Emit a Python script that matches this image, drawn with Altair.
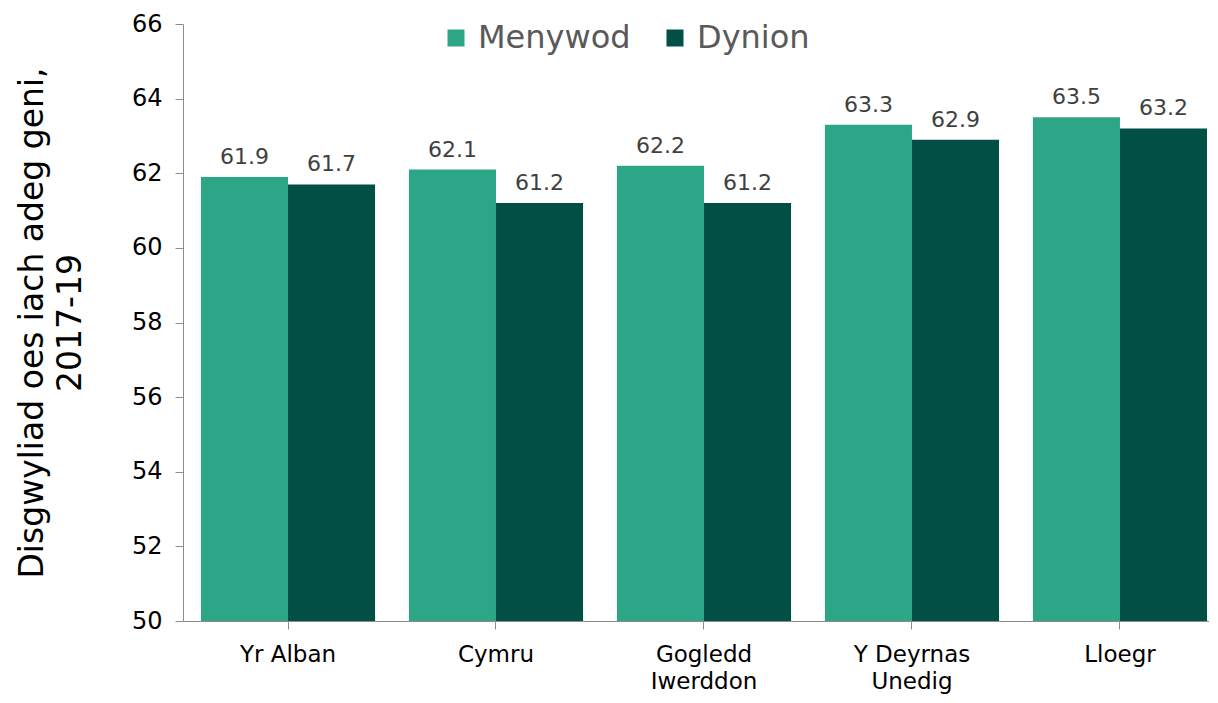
import altair as alt
import pandas as pd

regions = ["Yr Alban", "Cymru", "Gogledd|Iwerddon", "Y Deyrnas|Unedig", "Lloegr"]
series = ["Menywod", "Dynion"]
menywod = [61.9, 62.1, 62.2, 63.3, 63.5]
dynion = [61.7, 61.2, 61.2, 62.9, 63.2]
colors = ["#2da687", "#014f45"]
y_ticks = [50, 52, 54, 56, 58, 60, 62, 64, 66]

rows = []
for i, r in enumerate(regions):
    rows.append({"region": r, "series": "Menywod", "value": menywod[i]})
    rows.append({"region": r, "series": "Dynion", "value": dynion[i]})
df = pd.DataFrame(rows)

FONT = "DejaVu Sans"

x = alt.X(
    "region:N",
    sort=regions,
    scale=alt.Scale(paddingInner=0.163, paddingOuter=0.048, align=0.9),
    axis=alt.Axis(
        title=None,
        labelAngle=0,
        labelExpr="split(datum.label, '|')",
        labelFontSize=23,
        labelColor="#000000",
        labelPadding=14,
        labelLineHeight=27,
        tickSize=8,
        tickColor="#8c8c8c",
        domainColor="#8c8c8c",
        grid=False,
    ),
)
xoff = alt.XOffset("series:N", sort=series)
y = alt.Y(
    "value:Q",
    scale=alt.Scale(domain=[50, 66], zero=False, nice=False),
    axis=alt.Axis(
        title=["Disgwyliad oes iach adeg geni,", "2017-19"],
        titleFontSize=33,
        titleFontWeight="normal",
        titleColor="#000000",
        titleLineHeight=38,
        titlePadding=44,
        values=y_ticks,
        labelFontSize=24,
        labelColor="#000000",
        labelPadding=13,
        tickSize=8,
        tickColor="#8c8c8c",
        domainColor="#8c8c8c",
        grid=False,
    ),
)

base = alt.Chart(df).encode(x=x, xOffset=xoff)

bars = base.mark_bar().encode(
    y=y,
    y2=alt.datum(50),
    color=alt.Color(
        "series:N",
        sort=series,
        scale=alt.Scale(domain=series, range=colors),
        legend=alt.Legend(
            title=None,
            orient="none",
            legendX=257,
            legendY=-2,
            direction="horizontal",
            symbolType="square",
            symbolSize=289,
            symbolStrokeWidth=0,
            labelFontSize=32,
            labelColor="#595959",
            labelOffset=6,
            columnPadding=28,
        ),
    ),
)

labels = base.mark_text(baseline="bottom", dy=-8, fontSize=22, color="#404040").encode(
    y=alt.Y("value:Q"),
    text=alt.Text("value:Q", format=".1f"),
)

chart = (
    alt.layer(bars, labels)
    .properties(
        width=1026,
        height=597,
        autosize=alt.AutoSizeParams(type="none"),
        padding={"left": 175, "top": 16, "right": 0, "bottom": 74},
    )
    .configure(font=FONT)
    .configure_view(stroke=None)
)

chart.save("out.html", embed_options={"renderer": "svg", "actions": False})
